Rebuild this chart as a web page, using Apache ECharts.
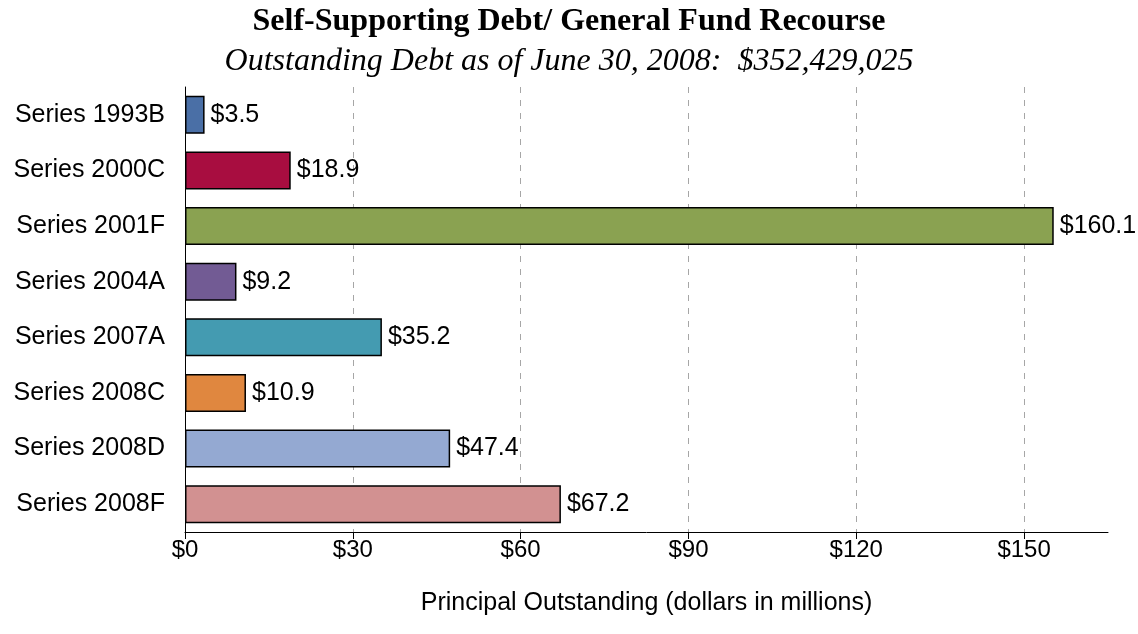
<!DOCTYPE html>
<html>
<head>
<meta charset="utf-8">
<script src="https://cdn.jsdelivr.net/npm/echarts@6/dist/echarts.min.js"></script>
<style>
  html, body { margin: 0; padding: 0; background: #fff; }
  #chart { width: 1138px; height: 634px; }
</style>
</head>
<body>
<div id="chart"></div>
<script>
// categories, top to bottom
var categories = ['Series 1993B', 'Series 2000C', 'Series 2001F', 'Series 2004A',
                  'Series 2007A', 'Series 2008C', 'Series 2008D', 'Series 2008F'];
// bar lengths as drawn (the 2001F bar is cut short in the original)
var barValues = [3.5, 18.9, 155.3, 9.2, 35.2, 10.9, 47.4, 67.2];
// printed amounts
var labelValues = [3.5, 18.9, 160.1, 9.2, 35.2, 10.9, 47.4, 67.2];
var barColors = ['#4a6fa6', '#a80d40', '#8aa251', '#725b94', '#449bb1',
                 '#e0873f', '#94a9d2', '#d29191'];
var tickValues = [0, 30, 60, 90, 120, 150];
var gridValues = [30, 60, 90, 120, 150];

var sans = 'Liberation Sans';
var myChart = echarts.init(document.getElementById('chart'));
myChart.setOption({
    animation: false,
    title: [
        {
            text: 'Self-Supporting Debt/ General Fund Recourse',
            left: 'center',
            top: 1,
            textStyle: { fontFamily: 'Liberation Serif', fontWeight: 'bold', fontSize: 32, color: '#000' }
        },
        {
            text: 'Outstanding Debt as of June 30, 2008:  $352,429,025',
            left: 'center',
            top: 41,
            textStyle: { fontFamily: 'Liberation Serif', fontStyle: 'italic', fontWeight: 'normal', fontSize: 32, color: '#000' }
        }
    ],
    grid: { left: 185, right: 30, top: 87, bottom: 102, containLabel: false },
    xAxis: {
        type: 'value',
        min: 0,
        max: 165,
        interval: 30,
        name: 'Principal Outstanding (dollars in millions)',
        nameLocation: 'middle',
        nameGap: 59,
        nameTextStyle: { fontFamily: sans, fontSize: 25, color: '#000' },
        axisLine: { show: true, lineStyle: { color: '#000', width: 1 } },
        axisTick: { show: true, length: 7, customValues: tickValues, lineStyle: { color: '#000' } },
        axisLabel: {
            customValues: tickValues,
            margin: 6,
            fontFamily: sans, fontSize: 24, color: '#000',
            formatter: function (v) { return '$' + v; }
        },
        splitLine: { show: false }
    },
    yAxis: {
        type: 'category',
        data: categories,
        inverse: true,
        axisLine: { show: true, lineStyle: { color: '#000', width: 1 } },
        axisTick: { show: false },
        axisLabel: { margin: 20, fontFamily: sans, fontSize: 25, color: '#000' }
    },
    series: [{
        type: 'bar',
        barWidth: 38,
        data: barValues.map(function (v, i) {
            return { value: v, itemStyle: { color: barColors[i] } };
        }),
        itemStyle: { borderColor: '#000', borderWidth: 1.5 },
        label: {
            show: true,
            position: 'right',
            distance: 6,
            fontFamily: sans, fontSize: 25, color: '#000',
            formatter: function (p) { return '$' + labelValues[p.dataIndex].toFixed(1); }
        },
        markLine: {
            silent: true,
            symbol: 'none',
            label: { show: false },
            lineStyle: { color: '#a6a6a6', type: [6, 7], width: 1 },
            data: gridValues.map(function (v) { return { xAxis: v }; }),
            z: 0
        },
        z: 2
    }]
});
</script>
</body>
</html>
